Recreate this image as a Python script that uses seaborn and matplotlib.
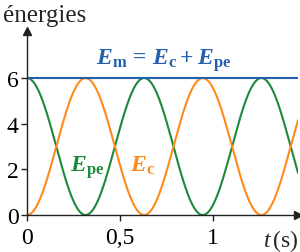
import numpy as np
import pandas as pd
import seaborn as sns
import matplotlib
matplotlib.use("Agg")
import matplotlib.pyplot as plt

# ---- values ----
em_total = 6.0            # constant mechanical energy
osc_period = 1.26         # oscillation period T (s): Epe max at 0, 0.63, 1.26
t_max = 1.457             # right end of time axis
y_max = 8.06              # top of energy axis
xtick_vals = [0, 0.5, 1]
xtick_labels = ["0", "0,5", "1"]
ytick_vals = [0, 2, 4, 6]
ytick_labels = ["0", "2", "4", "6"]

t = np.linspace(0, t_max, 600)
epe = em_total * np.cos(2 * np.pi * t / osc_period) ** 2
ec = em_total - epe
df = pd.DataFrame({"t": t, "Epe": epe, "Ec": ec, "Em": em_total})

sns.set_theme(style="white")
plt.rcParams["font.family"] = ["Liberation Serif", "DejaVu Serif"]
plt.rcParams["mathtext.fontset"] = "custom"
plt.rcParams["mathtext.rm"] = "Liberation Serif"
plt.rcParams["mathtext.it"] = "Liberation Serif:italic"
plt.rcParams["mathtext.bf"] = "Liberation Serif:bold"
plt.rcParams["mathtext.bfit"] = "Liberation Serif:italic:bold"

blue = "#2460AE"
green = "#1C8A3A"
orange = "#FF8A1C"
axc = "#222222"

fig = plt.figure(figsize=(3.0, 2.53), dpi=100)
ax = fig.add_axes([27 / 300, 37 / 253, (298 - 27) / 300, (216 - 32) / 253])

sns.lineplot(data=df, x="t", y="Epe", ax=ax, color=green, lw=1.5)
sns.lineplot(data=df, x="t", y="Ec", ax=ax, color=orange, lw=1.5)
sns.lineplot(data=df, x="t", y="Em", ax=ax, color=blue, lw=1.5)

ax.set_xlim(0, t_max)
ax.set_ylim(0, y_max)
for s in ["top", "right"]:
    ax.spines[s].set_visible(False)
for s in ["left", "bottom"]:
    ax.spines[s].set_color(axc)
    ax.spines[s].set_linewidth(1.0)
ax.set_xlabel("")
ax.set_ylabel("")
ax.set_xticks(xtick_vals, xtick_labels)
ax.set_yticks(ytick_vals, ytick_labels)
ax.tick_params(axis="both", direction="out", length=4, width=1.0, color=axc,
               labelsize=17, labelcolor="black", pad=2, bottom=True, left=True)
ax.tick_params(axis="x", pad=5)

# arrow heads
ax.plot(1, 0, ">", color=axc, ms=6, transform=ax.get_yaxis_transform(), clip_on=False)
ax.plot(0, 1, "^", color=axc, ms=6, transform=ax.get_xaxis_transform(), clip_on=False)

fig.text(3 / 300, 1 - 22 / 253, "énergies", fontsize=18, va="baseline", ha="left")
fig.text(298 / 300, 1 - 247 / 253, r"$t\,$(s)", fontsize=17, va="baseline", ha="right")

ax.text(0.371, 6.61, r"$\mathbfit{E}_{\mathbf{m}}\,\mathbf{=}\,\mathbfit{E}_{\mathbf{c}}\,\mathbf{+}\;\mathbfit{E}_{\mathbf{pe}}$",
        color=blue, fontsize=17, va="baseline", ha="left")
ax.text(0.231, 1.93, r"$\mathbfit{E}_{\mathbf{pe}}$", color=green, fontsize=17, va="baseline", ha="left")
ax.text(0.554, 1.93, r"$\mathbfit{E}_{\mathbf{c}}$", color=orange, fontsize=17, va="baseline", ha="left")

fig.savefig("out.png", dpi=100)
